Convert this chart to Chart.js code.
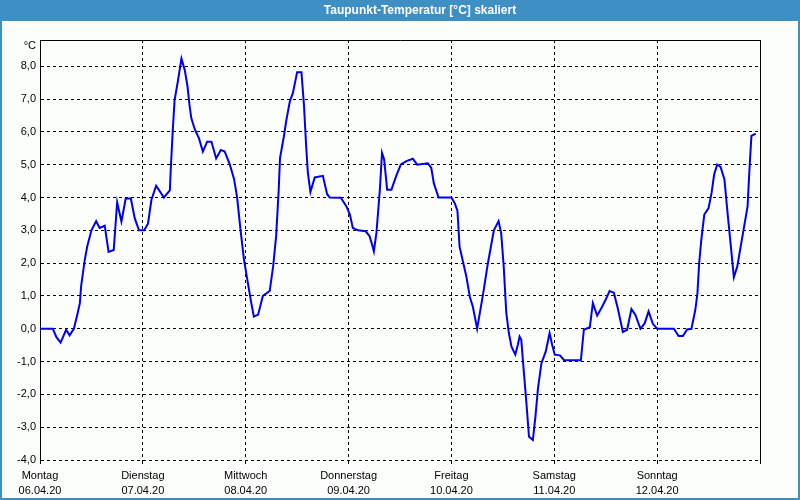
<!DOCTYPE html>
<html>
<head>
<meta charset="utf-8">
<title>Taupunkt-Temperatur</title>
<script src="https://cdn.jsdelivr.net/npm/chart.js@4.4.0/dist/chart.umd.min.js"></script>
<style>
  html, body { margin: 0; padding: 0; background: #fff; }
  #wrap { width: 800px; height: 500px; }
</style>
</head>
<body>
<div id="wrap"><canvas id="dew" width="800" height="500"></canvas></div>
<script>
// Wochentage und Datum unter der x-Achse
var dayNames = ["Montag", "Dienstag", "Mittwoch", "Donnerstag", "Freitag", "Samstag", "Sonntag"];
var dayDates = ["06.04.20", "07.04.20", "08.04.20", "09.04.20", "10.04.20", "11.04.20", "12.04.20"];

// Stunden seit Montag 0 Uhr
var hours = [
  0, 3.0, 3.8, 4.8, 6.1, 6.9, 7.9, 8.7, 9.3, 9.6, 10.4, 11.0, 12.0, 13.1, 13.9, 15.1, 16.0, 17.2,
  18.0, 19.0, 20.0, 21.2, 22.1, 23.1, 24.3, 25.2, 26.0, 27.1, 28.9, 30.3, 30.5, 31.0, 31.4, 32.2,
  33.0, 33.8, 34.4, 34.9, 35.3, 36.1, 37.1, 38.0, 39.0, 40.0, 41.1, 42.2, 43.1, 44.3, 45.3, 46.0,
  46.8, 47.6, 48.5, 49.3, 49.9, 50.9, 52.0, 53.6, 54.4, 55.1, 55.7, 56.0, 56.9, 57.5, 58.3, 59.0,
  60.0, 61.0, 61.6, 62.1, 62.5, 63.1, 64.1, 66.0, 67.0, 67.6, 70.2, 71.5, 72.3, 73.0, 74.2, 76.0,
  76.9, 77.5, 77.9, 78.5, 79.3, 79.8, 80.3, 81.0, 82.0, 83.1, 84.2, 85.5, 87.0, 88.0, 90.5, 91.3,
  91.9, 93.0, 96.0, 96.8, 97.4, 97.9, 98.7, 99.5, 100.3, 101.0, 102.0, 103.4, 104.5, 105.9, 107.0,
  107.6, 108.2, 108.8, 109.4, 110.0, 110.9, 111.5, 111.9, 112.3, 112.7, 113.5, 114.1, 115.0, 115.6,
  116.2, 117.0, 118.0, 118.9, 119.5, 120.1, 121.3, 122.3, 126.2, 126.9, 128.3, 129.0, 130.0, 131.0,
  132.0, 132.9, 133.9, 134.8, 136.0, 137.0, 138.0, 138.9, 140.1, 141.1, 142.0, 143.0, 144.0, 147.9,
  149.0, 150.0, 151.0, 152.0, 152.9, 153.4, 153.8, 154.3, 155.0, 156.0, 156.7, 157.3, 158.0, 158.8,
  159.7, 160.5, 161.2, 161.9, 162.7, 163.5, 164.3, 165.1, 165.5, 166.0, 167.0
];

// Taupunkt in °C
var dewPoint = [
  0, 0, -0.25, -0.42, -0.03, -0.2, 0, 0.43, 0.78, 1.3, 2.06, 2.5, 3.0, 3.28, 3.07, 3.14, 2.34, 2.4,
  3.85, 3.27, 3.97, 3.97, 3.37, 3.0, 3.0, 3.2, 3.93, 4.36, 4.0, 4.22, 4.84, 6.1, 6.96, 7.57,
  8.23, 7.87, 7.4, 6.8, 6.42, 6.08, 5.8, 5.4, 5.7, 5.7, 5.19, 5.45, 5.4, 5.0, 4.55, 3.99,
  3.0, 2.1, 1.4, 0.78, 0.37, 0.43, 1.0, 1.15, 1.9, 2.83, 4.24, 5.2, 5.86, 6.37, 6.93, 7.18,
  7.82, 7.82, 6.8, 5.57, 4.76, 4.17, 4.61, 4.66, 4.1, 4.0, 3.99, 3.73, 3.48, 3.07, 3.0, 2.97,
  2.82, 2.56, 2.36, 2.92, 4.24, 5.36, 5.16, 4.24, 4.24, 4.65, 5.01, 5.11, 5.18, 5.0, 5.04, 4.9,
  4.43, 4.0, 4.0, 3.82, 3.6, 2.5, 2.04, 1.58, 0.97, 0.67, 0.0, 1.07, 1.99, 3.0, 3.28,
  2.92, 1.9, 0.48, -0.13, -0.54, -0.79, -0.49, -0.24, -0.34, -1.0, -2.27, -3.29, -3.39, -2.68,
  -1.81, -1.05, -0.7, -0.13, -0.49, -0.79, -0.81, -0.96, -0.96, -0.03, 0.05, 0.78, 0.4, 0.63,
  0.89, 1.15, 1.1, 0.63, -0.1, -0.03, 0.6, 0.43, 0.0, 0.17, 0.53, 0.15, 0.0, 0.0,
  -0.22, -0.22, -0.02, 0.0, 0.57, 1.08, 1.99, 2.71, 3.48, 3.68, 4.14, 4.7, 5.0, 4.93,
  4.55, 3.43, 2.51, 1.57, 1.9, 2.51, 3.12, 3.73, 4.76, 5.88, 5.95
];

var yTicks = [-4, -3, -2, -1, 0, 1, 2, 3, 4, 5, 6, 7, 8];
var dayTicks = [0, 24, 48, 72, 96, 120, 144, 168];

var points = hours.map(function(h, i) { return { x: h, y: dewPoint[i] }; });

var frame = {
  id: 'frame',
  beforeDraw: function(chart) {
    var c = chart.ctx;
    c.save();
    c.fillStyle = '#fcfefc';
    c.fillRect(0, 0, chart.width, chart.height);
    c.fillStyle = '#3d8fc4';
    c.fillRect(0, 0, chart.width, 21);
    c.fillRect(0, 0, 2, chart.height);
    c.fillRect(chart.width - 2, 0, 2, chart.height);
    c.fillRect(0, chart.height - 2, chart.width, 2);
    c.fillStyle = '#ffffff';
    c.font = 'bold 12px "Liberation Sans", Arial, sans-serif';
    c.textAlign = 'center';
    c.textBaseline = 'middle';
    c.fillText('Taupunkt-Temperatur [°C] skaliert', 420, 11);
    c.restore();
  },
  afterDraw: function(chart) {
    var a = chart.chartArea, c = chart.ctx;
    c.save();
    c.strokeStyle = '#000';
    c.lineWidth = 1;
    c.beginPath();
    c.moveTo(a.left, a.top + 0.5);
    c.lineTo(a.right + 0.5, a.top + 0.5);
    c.lineTo(a.right + 0.5, a.bottom);
    c.stroke();
    c.fillStyle = '#000';
    c.font = '11px "Liberation Sans", Arial, sans-serif';
    c.textAlign = 'right';
    c.textBaseline = 'middle';
    c.fillText('°C', a.left - 4, a.top + 6);
    c.restore();
  }
};

new Chart(document.getElementById('dew').getContext('2d'), {
  type: 'line',
  data: {
    datasets: [{
      data: points,
      borderColor: '#0000ee',
      borderWidth: 2,
      pointRadius: 0,
      tension: 0,
      fill: false
    }]
  },
  options: {
    responsive: false,
    animation: false,
    layout: { padding: { top: 40, right: 40, left: 0, bottom: 0 } },
    plugins: { legend: { display: false }, tooltip: { enabled: false } },
    scales: {
      x: {
        type: 'linear',
        min: 0,
        max: 168,
        afterFit: function(s) { s.height = 40; },
        afterBuildTicks: function(s) { s.ticks = dayTicks.map(function(v) { return { value: v }; }); },
        border: { display: false, dash: [3, 3] },
        grid: { color: '#000', lineWidth: 1, tickLength: 4 },
        ticks: {
          color: '#000',
          maxRotation: 0,
          autoSkip: false,
          padding: 4,
          font: { family: '"Liberation Sans", Arial, sans-serif', size: 11, lineHeight: 1.4 },
          callback: function(v) {
            var i = dayTicks.indexOf(v);
            return i >= 0 && i < dayNames.length ? [dayNames[i], dayDates[i]] : '';
          }
        }
      },
      y: {
        min: -4,
        max: 8.8,
        afterFit: function(s) { s.width = 40; },
        afterBuildTicks: function(s) { s.ticks = yTicks.map(function(v) { return { value: v }; }); },
        border: { display: true, color: '#000', width: 1, dash: [3, 3] },
        grid: { color: '#000', lineWidth: 1, drawTicks: false },
        ticks: {
          color: '#000',
          padding: 4,
          font: { family: '"Liberation Sans", Arial, sans-serif', size: 11 },
          callback: function(v) { return v.toFixed(1).replace('.', ','); }
        }
      }
    }
  },
  plugins: [frame]
});
</script>
</body>
</html>
